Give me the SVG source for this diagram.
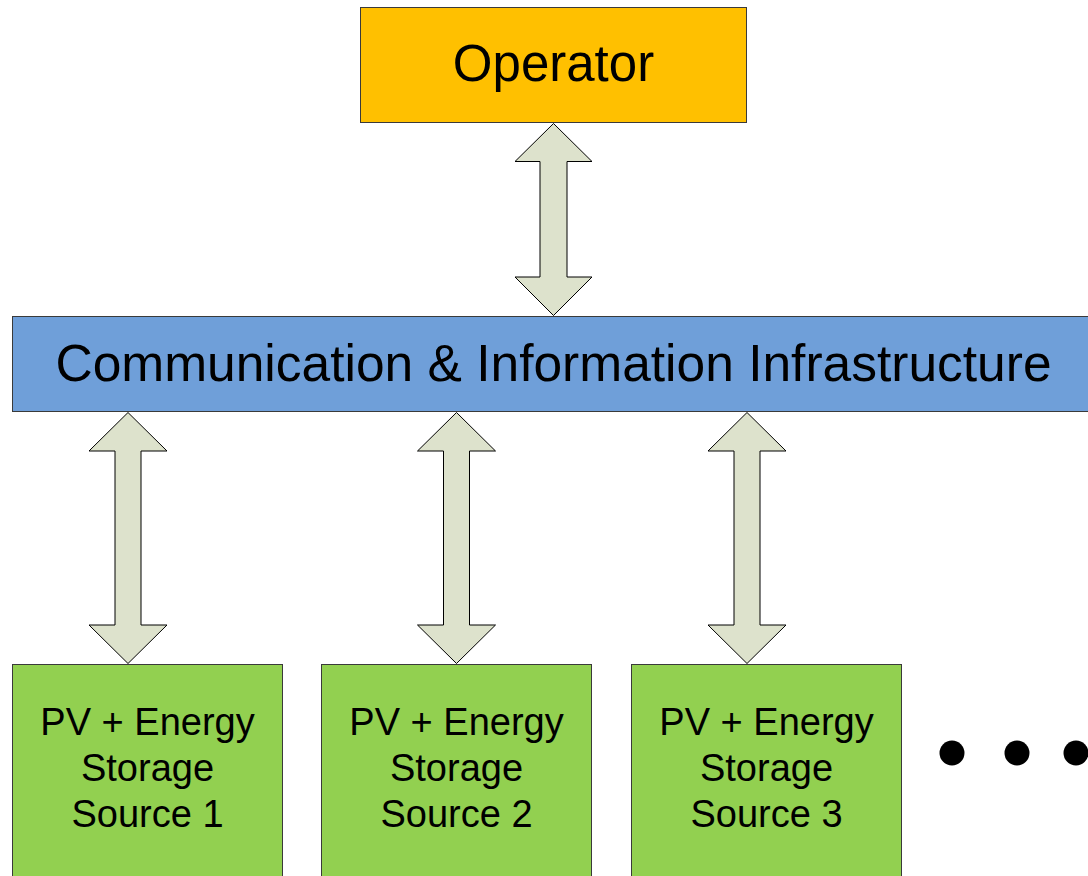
<svg xmlns="http://www.w3.org/2000/svg" width="1088" height="876" viewBox="0 0 1088 876">
  <style>
    .box { stroke: #3a3a3a; stroke-width: 1; }
    .label { font-family: "Liberation Sans", Arial, sans-serif; fill: #000; text-anchor: middle; }
    .src { font-size: 38px; }
    .arrow { fill: #DDE2CC; stroke: #000; stroke-width: 1; stroke-linejoin: miter; }
  </style>
  <rect width="1088" height="876" fill="#fff"/>

  <g id="operator">
    <rect class="box" x="360.5" y="7.5" width="386" height="115" fill="#FFC000"/>
    <text class="label" x="553.5" y="81" font-size="51">Operator</text>
  </g>

  <g id="infrastructure">
    <rect class="box" x="12.5" y="316.5" width="1090" height="95" fill="#6F9FD9"/>
    <text class="label" x="553.5" y="381" font-size="51.5">Communication &amp; Information Infrastructure</text>
  </g>

  <g id="source1">
    <rect class="box" x="12.5" y="664.5" width="270" height="230" fill="#92D050"/>
    <text class="label src"><tspan x="147.5" y="735">PV + Energy</tspan><tspan x="147.5" y="781">Storage</tspan><tspan x="147.5" y="827">Source 1</tspan></text>
  </g>

  <g id="source2">
    <rect class="box" x="321.5" y="664.5" width="270" height="230" fill="#92D050"/>
    <text class="label src"><tspan x="456.5" y="735">PV + Energy</tspan><tspan x="456.5" y="781">Storage</tspan><tspan x="456.5" y="827">Source 2</tspan></text>
  </g>

  <g id="source3">
    <rect class="box" x="631.5" y="664.5" width="270" height="230" fill="#92D050"/>
    <text class="label src"><tspan x="766.5" y="735">PV + Energy</tspan><tspan x="766.5" y="781">Storage</tspan><tspan x="766.5" y="827">Source 3</tspan></text>
  </g>

  <g id="more">
    <circle cx="952" cy="753" r="12.5" fill="#000"/>
    <circle cx="1017" cy="753" r="12.5" fill="#000"/>
    <circle cx="1076" cy="753" r="12.5" fill="#000"/>
  </g>

  <g id="connectors">
    <!-- operator <-> infrastructure -->
    <path class="arrow" d="M553.5,123.5 L592,161.5 L567,161.5 L567,277 L592,277 L553.5,315.5 L515,277 L540,277 L540,161.5 L515,161.5 Z"/>
    <!-- infrastructure <-> source 1 -->
    <path class="arrow" d="M128,412.5 L167,451 L141,451 L141,625 L167,625 L128,663.5 L89,625 L115,625 L115,451 L89,451 Z"/>
    <!-- infrastructure <-> source 2 -->
    <path class="arrow" d="M456.5,412.5 L495.5,451 L469.5,451 L469.5,625 L495.5,625 L456.5,663.5 L417.5,625 L443.5,625 L443.5,451 L417.5,451 Z"/>
    <!-- infrastructure <-> source 3 -->
    <path class="arrow" d="M747,412.5 L786,451 L760,451 L760,625 L786,625 L747,663.5 L708,625 L734,625 L734,451 L708,451 Z"/>
  </g>
</svg>
